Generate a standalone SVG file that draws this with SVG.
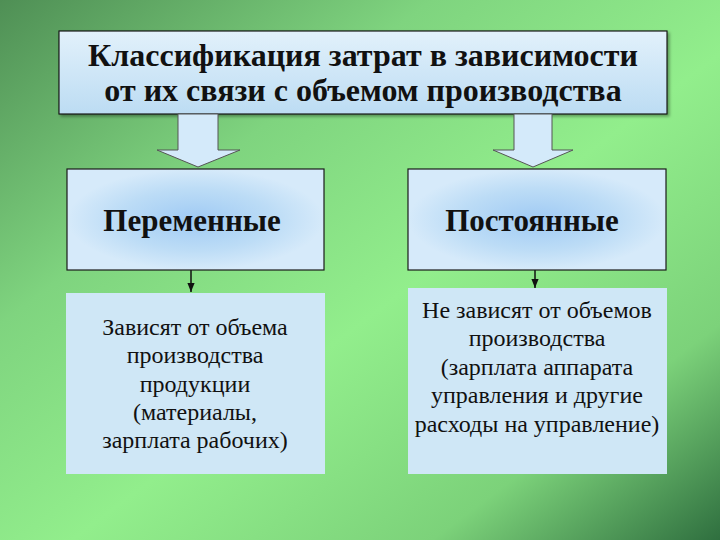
<svg xmlns="http://www.w3.org/2000/svg" width="720" height="540" viewBox="0 0 720 540">
<defs>
<linearGradient id="bg" x1="0" y1="0" x2="1" y2="1">
<stop offset="0" stop-color="#4f8f55"/>
<stop offset="0.3" stop-color="#7fd47f"/>
<stop offset="0.55" stop-color="#92ee8c"/>
<stop offset="0.8" stop-color="#7cd27a"/>
<stop offset="1" stop-color="#2f6f3f"/>
</linearGradient>
<linearGradient id="topfill" x1="0" y1="0" x2="0" y2="1">
<stop offset="0" stop-color="#e2f1fb"/>
<stop offset="1" stop-color="#bcdcf3"/>
</linearGradient>
<radialGradient id="glow" cx="0.5" cy="0.5" r="0.5">
<stop offset="0" stop-color="#9fcaf4"/>
<stop offset="0.6" stop-color="#bcdcf6"/>
<stop offset="1" stop-color="#d6eafa"/>
</radialGradient>
<marker id="ah" viewBox="0 0 10 10" refX="10" refY="5" markerWidth="6" markerHeight="6" orient="auto">
<path d="M0,1 L10,5 L0,9 Z" fill="#111"/>
</marker>
<filter id="sh" x="-5%" y="-5%" width="115%" height="120%">
<feDropShadow dx="2" dy="2" stdDeviation="1.5" flood-color="#000" flood-opacity="0.35"/>
</filter>
</defs>
<style>
.hdr{font-family:"Liberation Serif","DejaVu Serif","Times New Roman",serif;font-weight:bold;fill:#111;text-anchor:middle}
.body{font-family:"Liberation Serif","DejaVu Serif","Times New Roman",serif;fill:#111;text-anchor:middle;font-size:24px}
.box{stroke:#1a1a1a;stroke-width:1.2}
.blk{fill:#d4eafa;stroke:#555;stroke-width:1}
.con{stroke:#111;stroke-width:1.5;fill:none}
</style>
<rect x="0" y="0" width="720" height="540" fill="url(#bg)"/>
<g id="title">
<rect class="box" x="59" y="31" width="608" height="83" fill="url(#topfill)" filter="url(#sh)"/>
<text class="hdr" x="363" y="66" font-size="32">Классификация затрат в зависимости</text>
<text class="hdr" x="363" y="101" font-size="32">от их связи с объемом производства</text>
</g>
<g id="connectors">
<path class="blk" d="M178,114 L218,114 L218,150 L240,150 L198,167 L157,150 L178,150 Z"/>
<path class="blk" d="M514,114 L552,114 L552,150 L573,150 L533,167 L493,150 L514,150 Z"/>
<line class="con" x1="191" y1="270" x2="191" y2="292" marker-end="url(#ah)"/>
<line class="con" x1="535" y1="270" x2="535" y2="288" marker-end="url(#ah)"/>
</g>
<g id="variable">
<rect class="box" x="67" y="169" width="257" height="101" fill="url(#glow)"/>
<text class="hdr" x="192" y="231" font-size="31">Переменные</text>
</g>
<g id="fixed">
<rect class="box" x="408" y="169" width="258" height="101" fill="url(#glow)"/>
<text class="hdr" x="532" y="231" font-size="31">Постоянные</text>
</g>
<g id="variable-desc">
<rect x="66" y="293" width="259" height="181" fill="#cfe7f6"/>
<text class="body" x="195" y="335">Зависят от объема</text>
<text class="body" x="195" y="363">производства</text>
<text class="body" x="195" y="392">продукции</text>
<text class="body" x="195" y="420">(материалы,</text>
<text class="body" x="195" y="448">зарплата рабочих)</text>
</g>
<g id="fixed-desc">
<rect x="408" y="288" width="259" height="186" fill="#cfe7f6"/>
<text class="body" x="537" y="318">Не зависят от объемов</text>
<text class="body" x="537" y="346">производства</text>
<text class="body" x="537" y="375">(зарплата аппарата</text>
<text class="body" x="537" y="403">управления и другие</text>
<text class="body" x="537" y="432">расходы на управление)</text>
</g>
</svg>
